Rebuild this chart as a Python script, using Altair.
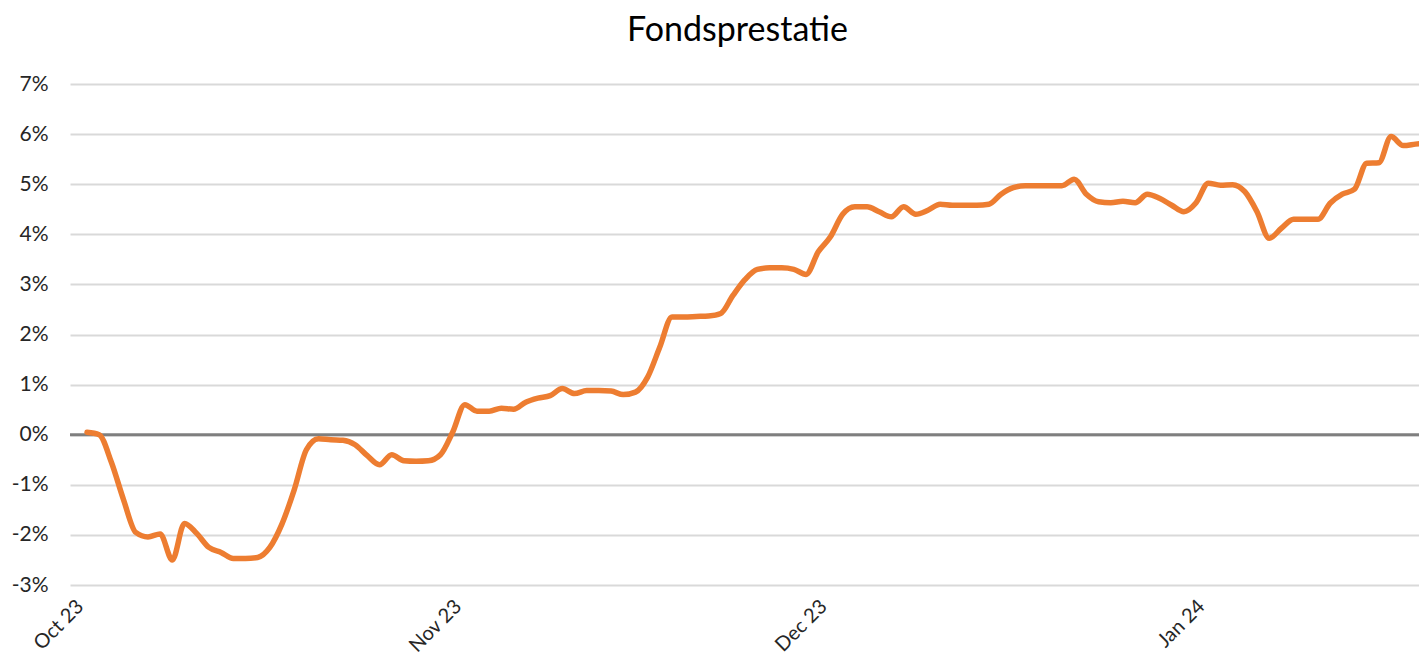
import altair as alt
import pandas as pd

# Daily fund performance (%), 1 Oct 2023 onwards
start_date = "2023-10-01"
performance = [
    0.05, 0.00, -0.55, -1.30, -1.95, -2.04, -1.98, -2.50, -1.77, -1.97,
    -2.25, -2.35, -2.47, -2.47, -2.45, -2.25, -1.78, -1.10, -0.30, -0.08,
    -0.10, -0.11, -0.20, -0.42, -0.60, -0.40, -0.52, -0.53, -0.52, -0.40,
    0.05, 0.60, 0.47, 0.47, 0.53, 0.51, 0.65, 0.73, 0.78, 0.92,
    0.82, 0.88, 0.88, 0.87, 0.80, 0.85, 1.15, 1.75, 2.35, 2.35,
    2.36, 2.37, 2.42, 2.78, 3.10, 3.30, 3.33, 3.33, 3.30, 3.20,
    3.65, 3.95, 4.40, 4.55, 4.55, 4.45, 4.35, 4.55, 4.40, 4.48,
    4.60, 4.58, 4.58, 4.58, 4.60, 4.80, 4.93, 4.97, 4.97, 4.97,
    4.97, 5.10, 4.80, 4.65, 4.63, 4.66, 4.63, 4.80, 4.72, 4.58,
    4.45, 4.63, 5.02, 4.98, 4.99, 4.85, 4.45, 3.92, 4.12, 4.30,
    4.30, 4.30, 4.62, 4.80, 4.90, 5.42, 5.43, 5.95, 5.77, 5.80,
    5.83,
]
dates = pd.date_range(start_date, periods=len(performance), freq="D")
date_strings = [d.strftime("%Y-%m-%dT00:00:00") for d in dates]

y_ticks = [-3, -2, -1, 0, 1, 2, 3, 4, 5, 6, 7]
month_ticks = [(2023, 10), (2023, 11), (2023, 12), (2024, 1)]

df = pd.DataFrame({"date": date_strings, "perf": performance})
zero_df = pd.DataFrame({"zero": [0]})

FONT = "Lato"

x_enc = alt.X(
    "date:T",
    scale=alt.Scale(
        domain=[
            alt.DateTime(year=2023, month=9, date=29, hours=14, minutes=30),
            alt.DateTime(year=2024, month=1, date=18, hours=7),
        ]
    ),
    axis=alt.Axis(
        values=[alt.DateTime(year=y, month=m, date=1) for y, m in month_ticks],
        format="%b %y",
        labelAngle=-45,
        labelFontSize=20,
        labelFont=FONT,
        labelColor="#262626",
        labelPadding=11,
        labelOffset=-14,
        ticks=False,
        domain=False,
        grid=False,
        title=None,
    ),
)

y_scale = alt.Scale(domain=[-3, 7], nice=False, zero=False)

line = alt.Chart(df).mark_line(
    color="#ED7D31", strokeWidth=5.5, interpolate="monotone", clip=True,
    strokeCap="round", strokeJoin="round",
).encode(
    x=x_enc,
    y=alt.Y(
        "perf:Q",
        scale=y_scale,
        axis=alt.Axis(
            values=y_ticks,
            labelExpr="datum.value + '%'",
            labelFontSize=21,
            labelFont=FONT,
            labelColor="#262626",
            labelPadding=22,
            ticks=False,
            domain=False,
            grid=True,
            gridColor="#d9d9d9",
            gridWidth=2,
            title=None,
        ),
    ),
)

zero_rule = alt.Chart(zero_df).mark_rule(color="#7f7f7f", strokeWidth=3).encode(
    y=alt.Y("zero:Q", scale=y_scale)
)

chart = (
    alt.layer(zero_rule, line)
    .properties(
        width=1349,
        height=501,
        autosize="none",
        padding={"left": 62, "top": 76, "right": 0, "bottom": 70},
        title=alt.TitleParams(
            "Fondsprestatie",
            font=FONT,
            fontSize=34,
            fontWeight="normal",
            color="#000000",
            anchor="middle",
            offset=25,
            dx=-7,
        ),
    )
    .configure_view(stroke=None)
)

chart.save("out.html", embed_options={"renderer": "svg", "actions": False})
